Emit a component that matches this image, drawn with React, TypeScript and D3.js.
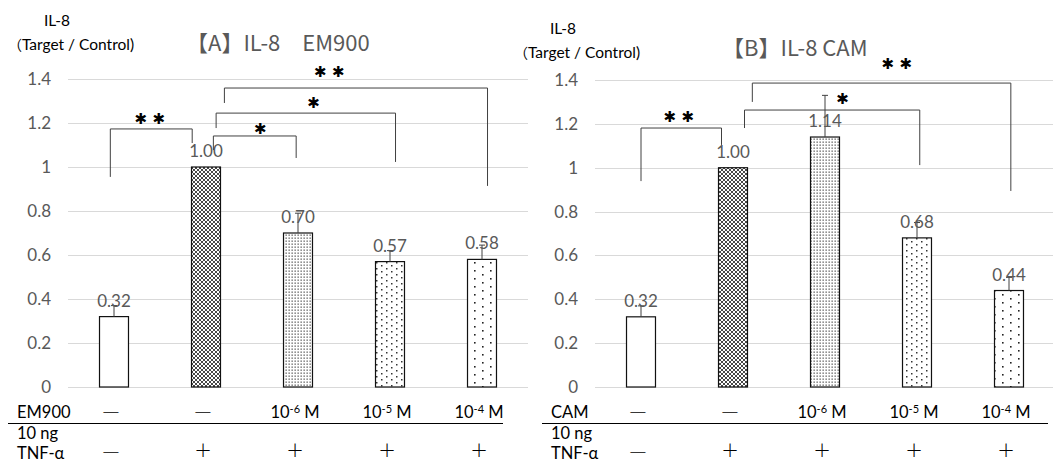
import * as d3 from 'd3';
import React from 'react';

// categories (treatment groups)
const categories = ['ctrl', 'tnf', 'm6', 'm5', 'm4'];

// [A] EM900
const valuesA = [0.32, 1.0, 0.7, 0.57, 0.58];
const errorsA = [0.05, 0, 0.09, 0.05, 0.065];
// [B] CAM
const valuesB = [0.32, 1.0, 1.14, 0.68, 0.44];
const errorsB = [0.05, 0, 0.19, 0.07, 0.06];

const yTicks = [0, 0.2, 0.4, 0.6, 0.8, 1, 1.2, 1.4];

// row labels under the bars
const drugDose = ['—', '—', '-6', '-5', '-4'];
const tnfRow = ['—', '+', '+', '+', '+'];

// significance brackets: a/b in category units, y values in data units
const bracketsA = [
    { a: -0.04, b: 0.85, top: 1.173, dropA: 0.955, dropB: 1.109, stars: 2, at: 0.39, ly: 1.218 },
    { a: 1.08, b: 1.98, top: 1.141, dropA: 1.077, dropB: 1.041, stars: 1, at: 1.59, ly: 1.173 },
    { a: 1.11, b: 3.06, top: 1.245, dropA: 1.177, dropB: 1.023, stars: 1, at: 2.17, ly: 1.291 },
    { a: 1.2, b: 4.06, top: 1.359, dropA: 1.291, dropB: 0.914, stars: 2, at: 2.34, ly: 1.432 },
];
const bracketsB = [
    { a: 0, b: 0.875, top: 1.181, dropA: 0.939, dropB: 1.104, stars: 2, at: 0.41, ly: 1.231 },
    { a: 1.125, b: 3.03, top: 1.263, dropA: 1.181, dropB: 1.012, stars: 1, at: 2.19, ly: 1.313 },
    { a: 1.21, b: 4.02, top: 1.386, dropA: 1.3, dropB: 0.894, stars: 2, at: 2.78, ly: 1.473 },
];

const patterns = ['none', 'url(#p2)', 'url(#p3)', 'url(#p4)', 'url(#p5)'];

const NUM_FONT = 'Lato, "Noto Sans", sans-serif';
const CJK_FONT = '"Noto Sans CJK JP", "Noto Sans", sans-serif';
const GRAY = '#595959';

function Panel({ x0, x1, yTop, values, errors, brackets, title, titleX, titleY, axisX, axisY, drug, lineX0, lineX1 }) {
    // scales
    const x = d3.scalePoint().domain(categories).range([x0, x1]).padding(0.5);
    const step = x.step();
    const bw = step * 0.315;
    const y = d3.scaleLinear().domain([0, 1.4]).range([387, yTop]);
    const pos = d3.scaleLinear().domain([0, 4]).range([x(categories[0]), x(categories[4])]);
    const fmt = d3.format('.2f');

    return (
        <g>
            {/* gridlines */}
            {yTicks.map((t) => (
                <g key={t}>
                    <line x1={x0} x2={x1} y1={Math.round(y(t)) + 0.5} y2={Math.round(y(t)) + 0.5} stroke="#d9d9d9" strokeWidth={1} />
                    <text x={x0 - 17} y={y(t)} dy="0.35em" textAnchor="end" fontSize={17} fill={GRAY} fontFamily={NUM_FONT}>{String(t)}</text>
                </g>
            ))}

            {/* axis title */}
            <text x={axisX} y={axisY} textAnchor="middle" fontSize={15.5} fill="#000" fontFamily={NUM_FONT}>IL-8</text>
            <text x={axisX + 14} y={axisY + 24} textAnchor="middle" fontSize={15.5} fill="#000" fontFamily={NUM_FONT}>
                <tspan fontFamily={CJK_FONT} fontSize={14}>（</tspan>Target / Control)
            </text>

            {/* title */}
            <text x={titleX} y={titleY} fontSize={22} fill={GRAY} fontFamily={CJK_FONT}>{title}</text>

            {/* bars */}
            {values.map((v, i) => (
                <g key={i}>
                    <rect x={x(categories[i]) - bw / 2} y={y(v)} width={bw} height={y(0) - y(v)} fill="#fff" stroke="none" />
                    {patterns[i] !== 'none' && (
                        <rect x={x(categories[i]) - bw / 2} y={y(v)} width={bw} height={y(0) - y(v)} fill={patterns[i]} stroke="none" />
                    )}
                    <rect x={x(categories[i]) - bw / 2} y={y(v)} width={bw} height={y(0) - y(v)} fill="none" stroke="#111" strokeWidth={1.2} />
                </g>
            ))}

            {/* error bars */}
            {values.map((v, i) => errors[i] > 0 && (
                <g key={i} stroke="#404040" strokeWidth={1}>
                    <line x1={x(categories[i])} x2={x(categories[i])} y1={y(v)} y2={y(v + errors[i])} />
                    <line x1={x(categories[i]) - 3} x2={x(categories[i]) + 3} y1={y(v + errors[i])} y2={y(v + errors[i])} />
                </g>
            ))}

            {/* value labels */}
            {values.map((v, i) => (
                <text key={i} x={x(categories[i])} y={y(v) - 10} textAnchor="middle" fontSize={17} fill={GRAY} fontFamily={NUM_FONT}>{fmt(v)}</text>
            ))}

            {/* significance brackets */}
            {brackets.map((b, k) => (
                <g key={k}>
                    <path
                        d={`M${pos(b.a)},${y(b.dropA)}V${y(b.top)}H${pos(b.b)}V${y(b.dropB)}`}
                        fill="none" stroke="#404040" strokeWidth={1} />
                    {d3.range(b.stars).map((s) => (
                        <text key={s} x={pos(b.at) + (s - (b.stars - 1) / 2) * 18} y={y(b.ly)} dy="0.35em"
                            textAnchor="middle" fontSize={15} fontWeight={700} fill="#000" fontFamily='"DejaVu Sans", sans-serif'>✱</text>
                    ))}
                </g>
            ))}

            {/* treatment rows */}
            <text x={lineX0 + 9} y={418} fontSize={16.5} fill="#000" fontFamily={NUM_FONT}>{drug}</text>
            {drugDose.map((d, i) => (
                <text key={i} x={x(categories[i]) - 3} y={418} textAnchor="middle" fontSize={d === '—' ? 19 : 16.5} fill="#000"
                    fontFamily={d === '—' ? CJK_FONT : NUM_FONT} fontWeight={d === '—' ? 300 : 400}>
                    {d === '—' ? d : (
                        <>
                            <tspan>10</tspan>
                            <tspan dy={-5} fontSize={11}>{d}</tspan>
                            <tspan dy={5}> M</tspan>
                        </>
                    )}
                </text>
            ))}
            <line x1={lineX0} x2={lineX1} y1={423.5} y2={423.5} stroke="#000" strokeWidth={1} />
            <text x={lineX0 + 9} y={439} fontSize={16.5} fill="#000" fontFamily={NUM_FONT}>10 ng</text>
            <text x={lineX0 + 9} y={459} fontSize={16.5} fill="#000" fontFamily={NUM_FONT}>TNF-α</text>
            {tnfRow.map((d, i) => (
                <text key={i} x={x(categories[i]) - 3} y={d === '—' ? 458 : 457} textAnchor="middle" fontSize={d === '—' ? 19 : 21} fill="#000"
                    fontFamily={d === '—' ? CJK_FONT : '"DejaVu Sans", sans-serif'} fontWeight={d === '—' ? 300 : 200}>{d}</text>
            ))}
        </g>
    );
}

export default function App() {
    return (
        <svg width={1053} height={463} style={{ position: 'absolute', left: 0, top: 0, background: '#fff' }}>
            <defs>
                <pattern id="p2" patternUnits="userSpaceOnUse" width={4} height={4}>
                    <rect width={4} height={4} fill="#fff" />
                    <path d="M0,0L4,4M4,0L0,4" stroke="#333" strokeWidth={0.9} />
                </pattern>
                <pattern id="p3" patternUnits="userSpaceOnUse" width={3} height={3}>
                    <rect width={3} height={3} fill="#fff" />
                    <rect x={0.5} y={0.5} width={1.3} height={1.3} fill="#555" />
                </pattern>
                <pattern id="p4" patternUnits="userSpaceOnUse" width={10} height={6}>
                    <rect width={10} height={6} fill="#fff" />
                    <rect x={1} y={1} width={1.5} height={1.5} fill="#333" />
                    <rect x={6} y={4} width={1.5} height={1.5} fill="#333" />
                </pattern>
                <pattern id="p5" patternUnits="userSpaceOnUse" width={16} height={8}>
                    <rect width={16} height={8} fill="#fff" />
                    <rect x={2} y={2} width={1.6} height={1.6} fill="#222" />
                    <rect x={10} y={6} width={1.6} height={1.6} fill="#222" />
                </pattern>
            </defs>
            <Panel x0={68} x1={528} yTop={79} values={valuesA} errors={errorsA} brackets={bracketsA}
                title="【A】IL-8　EM900" titleX={186} titleY={51} axisX={57} axisY={26}
                drug="EM900" lineX0={8} lineX1={503} />
            <Panel x0={595} x1={1055} yTop={80} values={valuesB} errors={errorsB} brackets={bracketsB}
                title="【B】IL-8 CAM" titleX={722} titleY={56} axisX={563} axisY={34}
                drug="CAM" lineX0={542} lineX1={1048} />
        </svg>
    );
}
